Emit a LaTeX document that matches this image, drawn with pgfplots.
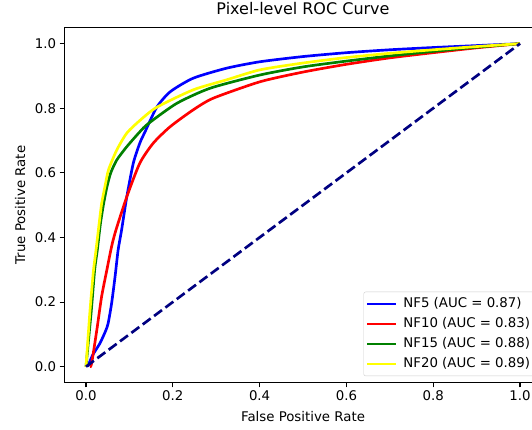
\documentclass[border=0pt]{standalone}
\usepackage{pgfplots}
\pgfplotsset{compat=1.18}
\usepackage{fontspec}
\setmainfont{DejaVu Sans}
\definecolor{cblue}{RGB}{0,0,255}
\definecolor{cred}{RGB}{255,0,0}
\definecolor{cgreen}{RGB}{0,128,0}
\definecolor{cyellow}{RGB}{255,255,0}
\definecolor{cnavy}{RGB}{0,0,128}
\newcommand{\tickfont}{\fontsize{13.33}{16}\selectfont}

\begin{document}
\begin{tikzpicture}
\useasboundingbox (-64.3pt,-47.2pt) rectangle (467.7pt,382.8pt);
\begin{axis}[
    at={(0,0)}, anchor=south west,
    scale only axis,
    width=477.4pt, height=355.3pt,
    xmin=-0.05, xmax=1.05, ymin=-0.05, ymax=1.05,
    xtick={0,0.2,0.4,0.6,0.8,1.0},
    ytick={0,0.2,0.4,0.6,0.8,1.0},
    xticklabels={0.0,0.2,0.4,0.6,0.8,1.0},
    yticklabels={0.0,0.2,0.4,0.6,0.8,1.0},
    tick align=outside, tick pos=left,
    major tick length=4.67pt,
    tick style={line width=1.07pt, black},
    axis line style={line width=1.07pt},
    font=\tickfont,
    ticklabel style={font=\tickfont},
    title={Pixel-level ROC Curve},
    title style={font=\fontsize{16}{19}\selectfont, at={(axis description cs:0.5,1.0183)}, anchor=base},
    xlabel={False Positive Rate},
    ylabel={True Positive Rate},
    xlabel style={at={(axis description cs:0.5,-0.1089)}, anchor=base},
    ylabel style={at={(axis description cs:-0.0823,0.5)}, anchor=base},
    legend style={at={(axis description cs:1,0)}, anchor=south east,
        xshift=-6.67pt, yshift=6.67pt, draw=black!20, rounded corners=2pt,
        fill=white, fill opacity=0.8, text opacity=1, inner sep=2pt,
        font=\tickfont, column sep=3pt,
        nodes={inner ysep=3.35pt, inner xsep=2.7pt, text height=10pt, text depth=3.3pt}},
    legend cell align=left,
    legend image code/.code={\draw[#1, line width=2.67pt] (0pt,0pt) -- (29.3pt,0pt);},
    every axis plot/.append style={line width=2.67pt, smooth, tension=0.4},
]
\addplot[cblue] coordinates {
    (0.004,0) (0.015,0.035) (0.032,0.072) (0.045,0.11) (0.051,0.134)
    (0.059,0.196) (0.067,0.279) (0.074,0.361) (0.082,0.423) (0.094,0.526)
    (0.109,0.63) (0.124,0.692) (0.136,0.727) (0.163,0.803) (0.194,0.851)
    (0.247,0.893) (0.324,0.924) (0.401,0.944) (0.5,0.96) (0.6,0.972)
    (0.7,0.981) (0.8,0.988) (0.9,0.994) (1,1)
};
\addlegendentry{NF5 (AUC = 0.87)}
\addplot[cred] coordinates {
    (0.009,0) (0.013,0.01) (0.025,0.114) (0.036,0.217) (0.048,0.299)
    (0.059,0.372) (0.069,0.423) (0.094,0.526) (0.124,0.63) (0.155,0.692)
    (0.194,0.743) (0.247,0.795) (0.293,0.831) (0.401,0.882) (0.5,0.912)
    (0.6,0.936) (0.7,0.956) (0.8,0.972) (0.9,0.987) (1,1)
};
\addlegendentry{NF10 (AUC = 0.83)}
\addplot[cgreen] coordinates {
    (0,0) (0.012,0.17) (0.02,0.3) (0.026,0.36) (0.033,0.44)
    (0.04,0.50) (0.048,0.555) (0.057,0.6) (0.071,0.64) (0.094,0.681)
    (0.124,0.727) (0.144,0.753) (0.209,0.815) (0.286,0.862) (0.401,0.903)
    (0.5,0.928) (0.6,0.946) (0.7,0.962) (0.8,0.976) (0.9,0.989) (1,1)
};
\addlegendentry{NF15 (AUC = 0.88)}
\addplot[cyellow] coordinates {
    (0,0) (0.009,0.17) (0.017,0.295) (0.023,0.36) (0.03,0.44)
    (0.036,0.505) (0.044,0.56) (0.052,0.61) (0.071,0.671) (0.094,0.723)
    (0.124,0.762) (0.163,0.803) (0.247,0.857) (0.324,0.888) (0.401,0.919)
    (0.5,0.94) (0.6,0.957) (0.7,0.970) (0.8,0.981) (0.9,0.991) (1,1)
};
\addlegendentry{NF20 (AUC = 0.89)}
\addplot[cnavy, dash pattern=on 9.87pt off 4.27pt, sharp plot, forget plot] coordinates {
    (0,0) (1,1)
};
\end{axis}
\end{tikzpicture}
\end{document}
